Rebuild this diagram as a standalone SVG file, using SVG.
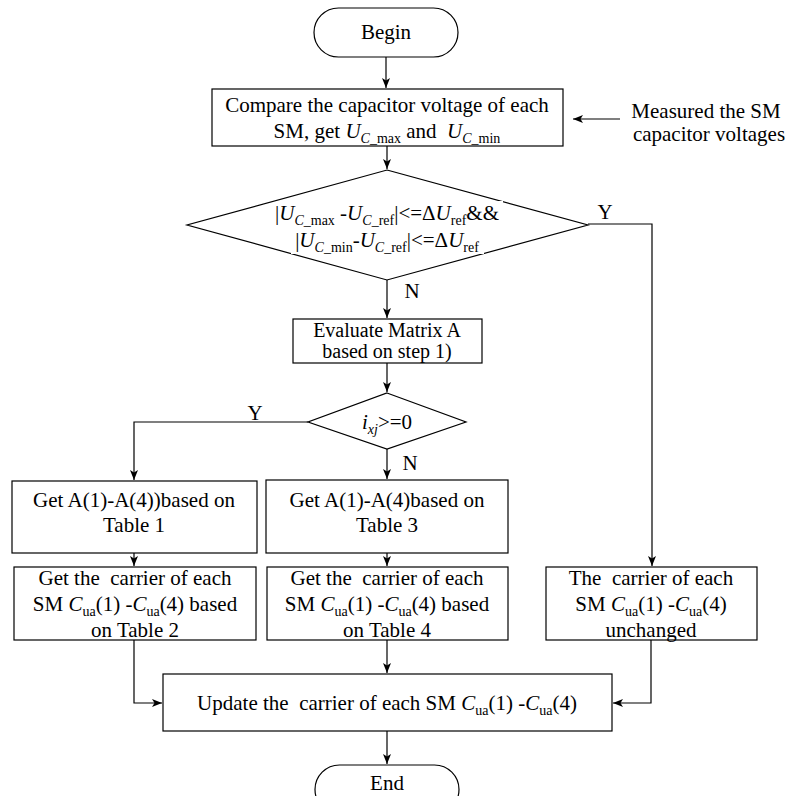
<svg xmlns="http://www.w3.org/2000/svg" width="786" height="796" viewBox="0 0 786 796">
<style>
.s{fill:#fff;stroke:#000;stroke-width:1.2}
.c{fill:none;stroke:#000;stroke-width:1.2}
.w{fill:#fff;stroke:none}
text{font-family:"Liberation Serif","Times New Roman",serif;font-size:21px;fill:#000;white-space:pre}
.m{text-anchor:middle}
.i{font-style:italic}
.b{font-size:14px}
.e{font-size:20px}
</style>
<defs>
<marker id="a" viewBox="0 0 10 8" refX="10" refY="4" markerWidth="10" markerHeight="8" markerUnits="userSpaceOnUse" orient="auto">
<path d="M0,0 L10,4 L0,8 L2.5,4 Z" fill="#000"/>
</marker>
</defs>
<rect width="786" height="796" fill="#fff"/>
<g id="connectors">
<path class="c" d="M386,57 V88" marker-end="url(#a)"/>
<path class="c" d="M620,119 H573" marker-end="url(#a)"/>
<path class="c" d="M387,146 V169" marker-end="url(#a)"/>
<path class="c" d="M588,224 H652 V566" marker-end="url(#a)"/>
<path class="c" d="M387,280 V318" marker-end="url(#a)"/>
<path class="c" d="M387,363 V392" marker-end="url(#a)"/>
<path class="c" d="M308,422 H134 V480" marker-end="url(#a)"/>
<path class="c" d="M387,449 V479" marker-end="url(#a)"/>
<path class="c" d="M134,553 V566" marker-end="url(#a)"/>
<path class="c" d="M387,553 V566" marker-end="url(#a)"/>
<path class="c" d="M134,640 V703 H162" marker-end="url(#a)"/>
<path class="c" d="M387,640 V673" marker-end="url(#a)"/>
<path class="c" d="M651,640 V703 H613" marker-end="url(#a)"/>
<path class="c" d="M387,731 V764" marker-end="url(#a)"/>
<text x="605" y="219" class="m">Y</text>
<text x="412" y="298" class="m">N</text>
<text x="255" y="420" class="m">Y</text>
<text x="410" y="470" class="m">N</text>
</g>
<g id="begin">
<rect class="s" x="314" y="8" width="144" height="49" rx="24.5"/>
<text x="386" y="39" class="m">Begin</text>
</g>
<g id="compare">
<rect class="s" x="212" y="89" width="351" height="57"/>
<text x="387" y="112" class="m">Compare the capacitor voltage of each</text>
<text x="387" y="138" class="m">SM, get <tspan class="i">U</tspan><tspan class="b i" dy="5">C</tspan><tspan class="b">_max</tspan><tspan dy="-5"> and  </tspan><tspan class="i">U</tspan><tspan class="b i" dy="5">C</tspan><tspan class="b">_min</tspan></text>
</g>
<g id="measured">
<text x="706" y="118" class="m">Measured the SM</text>
<text x="709" y="141" class="m">capacitor voltages</text>
</g>
<g id="check">
<polygon class="s" points="387,170 588,225 387,280 187,225"/>
<rect class="w" x="285" y="201" width="218" height="27"/>
<rect class="w" x="291" y="228" width="193" height="26"/>
<text x="387" y="220" class="m">|<tspan class="i">U</tspan><tspan class="b i" dy="5">C</tspan><tspan class="b">_max</tspan><tspan dy="-5"> -</tspan><tspan class="i">U</tspan><tspan class="b i" dy="5">C</tspan><tspan class="b">_ref</tspan><tspan dy="-5">|&lt;=Δ</tspan><tspan class="i">U</tspan><tspan class="b" dy="5">ref</tspan><tspan dy="-5">&amp;&amp;</tspan></text>
<text x="387" y="247" class="m">|<tspan class="i">U</tspan><tspan class="b i" dy="5">C</tspan><tspan class="b">_min</tspan><tspan dy="-5">-</tspan><tspan class="i">U</tspan><tspan class="b i" dy="5">C</tspan><tspan class="b">_ref</tspan><tspan dy="-5">|&lt;=Δ</tspan><tspan class="i">U</tspan><tspan class="b" dy="5">ref</tspan></text>
</g>
<g id="evaluate">
<rect class="s" x="293" y="319" width="189" height="44"/>
<text x="387" y="337" class="m e">Evaluate Matrix A</text>
<text x="387" y="358" class="m e">based on step 1)</text>
</g>
<g id="ixj">
<polygon class="s" points="387,393 466,422 387,449 308,422"/>
<text x="387" y="429" class="m"><tspan class="i">i</tspan><tspan class="b i" dy="5">xj</tspan><tspan dy="-5">&gt;=0</tspan></text>
</g>
<g id="table1">
<rect class="s" x="12" y="481" width="245" height="72"/>
<text x="134" y="507" class="m">Get A(1)-A(4))based on</text>
<text x="134" y="532" class="m">Table 1</text>
</g>
<g id="table3">
<rect class="s" x="266" y="480" width="242" height="73"/>
<text x="387" y="507" class="m">Get A(1)-A(4)based on</text>
<text x="387" y="532" class="m">Table 3</text>
</g>
<g id="table2">
<rect class="s" x="14" y="567" width="242" height="73"/>
<text x="135" y="585" class="m">Get the  carrier of each</text>
<text x="135" y="611" class="m">SM <tspan class="i">C</tspan><tspan class="b" dy="5">ua</tspan><tspan dy="-5">(1) -</tspan><tspan class="i">C</tspan><tspan class="b" dy="5">ua</tspan><tspan dy="-5">(4) based</tspan></text>
<text x="135" y="637" class="m">on Table 2</text>
</g>
<g id="table4">
<rect class="s" x="267" y="567" width="241" height="73"/>
<text x="387" y="585" class="m">Get the  carrier of each</text>
<text x="387" y="611" class="m">SM <tspan class="i">C</tspan><tspan class="b" dy="5">ua</tspan><tspan dy="-5">(1) -</tspan><tspan class="i">C</tspan><tspan class="b" dy="5">ua</tspan><tspan dy="-5">(4) based</tspan></text>
<text x="387" y="637" class="m">on Table 4</text>
</g>
<g id="unchanged">
<rect class="s" x="546" y="567" width="211" height="73"/>
<text x="651" y="585" class="m">The  carrier of each</text>
<text x="651" y="611" class="m">SM <tspan class="i">C</tspan><tspan class="b" dy="5">ua</tspan><tspan dy="-5">(1) -</tspan><tspan class="i">C</tspan><tspan class="b" dy="5">ua</tspan><tspan dy="-5">(4)</tspan></text>
<text x="651" y="637" class="m">unchanged</text>
</g>
<g id="update">
<rect class="s" x="163" y="674" width="449" height="57"/>
<text x="387" y="710" class="m">Update the  carrier of each SM <tspan class="i">C</tspan><tspan class="b" dy="5">ua</tspan><tspan dy="-5">(1) -</tspan><tspan class="i">C</tspan><tspan class="b" dy="5">ua</tspan><tspan dy="-5">(4)</tspan></text>
</g>
<g id="end">
<rect class="s" x="315" y="765" width="144" height="49" rx="24.5"/>
<text x="387" y="790" class="m">End</text>
</g>
</svg>
